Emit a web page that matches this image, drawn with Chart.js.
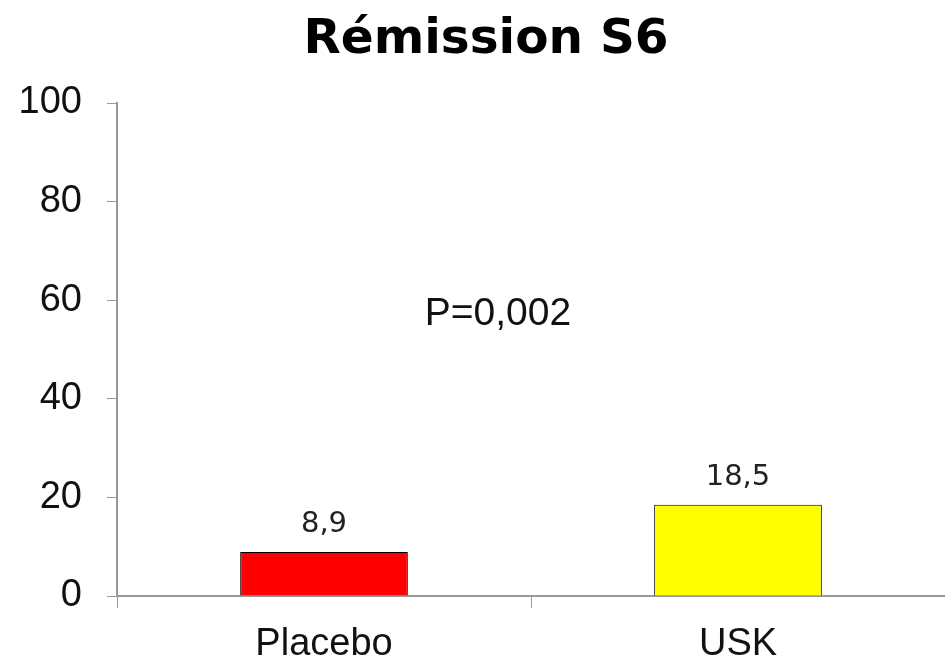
<!DOCTYPE html>
<html>
<head>
<meta charset="utf-8">
<script src="https://cdn.jsdelivr.net/npm/chart.js@4/dist/chart.umd.min.js"></script>
<style>
  html, body { margin: 0; padding: 0; background: #fff; }
  #wrap { width: 945px; height: 664px; }
</style>
</head>
<body>
<div id="wrap"><canvas id="chart" width="945" height="664"></canvas></div>
<script>
const categories = ["Placebo", "USK"];
const values = [8.9, 18.5];
const valueLabels = ["8,9", "18,5"];
const barColors = ["#ff0000", "#ffff00"];
const yTicks = [0, 20, 40, 60, 80, 100];
const titleText = "Rémission S6";
// p-value note, placed in axis units (category index, y value)
const note = { text: "P=0,002", x: 0.42, y: 57.2 };

const AXIS_GREY = "#999999";

// title (drawn by hand so it can sit a bit right of the canvas centre),
// value above each bar and the p-value note
const labelsPlugin = {
  id: "labels",
  afterDatasetsDraw(chart) {
    const ctx = chart.ctx;
    const meta = chart.getDatasetMeta(0);
    ctx.save();
    ctx.textAlign = "center";

    ctx.fillStyle = "#000";
    ctx.textBaseline = "alphabetic";
    ctx.font = "bold 48.5px 'DejaVu Sans'";
    ctx.fillText(titleText, 486, 53);

    ctx.fillStyle = "#222";
    ctx.font = "29px 'DejaVu Sans'";
    meta.data.forEach((bar, i) => {
      ctx.fillText(valueLabels[i], bar.x, bar.y - 20);
    });

    ctx.font = "39px 'Liberation Sans'";
    ctx.textBaseline = "middle";
    ctx.fillStyle = "#111";
    ctx.fillText(note.text,
      chart.scales.x.getPixelForValue(note.x),
      chart.scales.y.getPixelForValue(note.y));
    ctx.restore();
  }
};

new Chart(document.getElementById("chart").getContext("2d"), {
  type: "bar",
  data: {
    labels: categories,
    datasets: [{
      data: values,
      backgroundColor: barColors,
      borderColor: "#000",
      borderWidth: 1,
      barPercentage: 0.405,
      categoryPercentage: 1
    }]
  },
  options: {
    responsive: false,
    animation: false,
    layout: { padding: { left: 0, right: 0, top: 103, bottom: 0 } },
    plugins: {
      legend: { display: false },
      tooltip: { enabled: false },
      title: { display: false }
    },
    scales: {
      x: {
        grid: {
          drawOnChartArea: false,
          drawTicks: true,
          tickLength: 12,
          color: AXIS_GREY,
          offset: true
        },
        border: { color: AXIS_GREY, width: 2 },
        ticks: {
          color: "#111",
          font: { family: "'Liberation Sans'", size: 38 },
          padding: 14
        },
        afterFit(scale) { scale.height = 68; }
      },
      y: {
        min: 0,
        max: 100,
        afterBuildTicks(scale) { scale.ticks = yTicks.map(v => ({ value: v })); },
        grid: {
          drawOnChartArea: false,
          drawTicks: true,
          tickLength: 10,
          color: AXIS_GREY
        },
        border: { color: AXIS_GREY, width: 2 },
        ticks: {
          color: "#111",
          font: { family: "'Liberation Sans'", size: 38 },
          padding: 25
        },
        afterFit(scale) { scale.width = 117; }
      }
    }
  },
  plugins: [labelsPlugin]
});
</script>
</body>
</html>
